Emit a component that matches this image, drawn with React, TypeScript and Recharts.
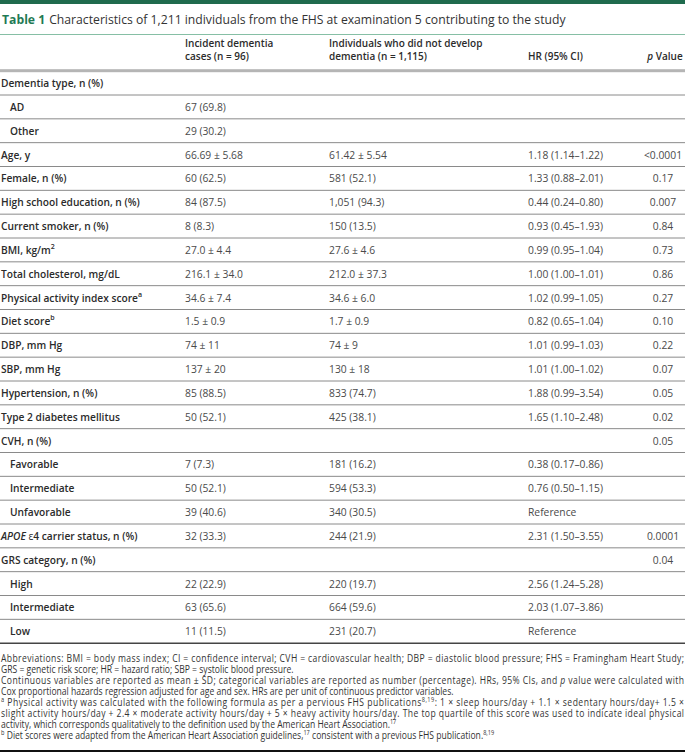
import React from "react";
import { ComposedChart, Bar, XAxis, YAxis, Customized } from "recharts";

// table rows, top to bottom
const LABELS = [
  "Dementia type, n (%)",
  "AD",
  "Other",
  "Age, y",
  "Female, n (%)",
  "High school education, n (%)",
  "Current smoker, n (%)",
  "BMI, kg/m2",
  "Total cholesterol, mg/dL",
  "Physical activity index score",
  "Diet score",
  "DBP, mm Hg",
  "SBP, mm Hg",
  "Hypertension, n (%)",
  "Type 2 diabetes mellitus",
  "CVH, n (%)",
  "Favorable",
  "Intermediate",
  "Unfavorable",
  "APOE ε4 carrier status, n (%)",
  "GRS category, n (%)",
  "High",
  "Intermediate ",
  "Low",
];

const SUB_ROWS = ["AD", "Other", "Favorable", "Intermediate", "Unfavorable", "High", "Intermediate ", "Low"];

const INCIDENT = [
  "", "67 (69.8)", "29 (30.2)", "66.69 ± 5.68", "60 (62.5)", "84 (87.5)", "8 (8.3)",
  "27.0 ± 4.4", "216.1 ± 34.0", "34.6 ± 7.4", "1.5 ± 0.9", "74 ± 11", "137 ± 20",
  "85 (88.5)", "50 (52.1)", "", "7 (7.3)", "50 (52.1)", "39 (40.6)", "32 (33.3)",
  "", "22 (22.9)", "63 (65.6)", "11 (11.5)",
];

const NO_DEMENTIA = [
  "", "", "", "61.42 ± 5.54", "581 (52.1)", "1,051 (94.3)", "150 (13.5)",
  "27.6 ± 4.6", "212.0 ± 37.3", "34.6 ± 6.0", "1.7 ± 0.9", "74 ± 9", "130 ± 18",
  "833 (74.7)", "425 (38.1)", "", "181 (16.2)", "594 (53.3)", "340 (30.5)", "244 (21.9)",
  "", "220 (19.7)", "664 (59.6)", "231 (20.7)",
];

const HAZARD = [
  "", "", "", "1.18 (1.14–1.22)", "1.33 (0.88–2.01)", "0.44 (0.24–0.80)", "0.93 (0.45–1.93)",
  "0.99 (0.95–1.04)", "1.00 (1.00–1.01)", "1.02 (0.99–1.05)", "0.82 (0.65–1.04)",
  "1.01 (0.99–1.03)", "1.01 (1.00–1.02)", "1.88 (0.99–3.54)", "1.65 (1.10–2.48)", "",
  "0.38 (0.17–0.86)", "0.76 (0.50–1.15)", "Reference", "2.31 (1.50–3.55)", "",
  "2.56 (1.24–5.28)", "2.03 (1.07–3.86)", "Reference",
];

const P_VALUES = [
  "", "", "", "<0.0001", "0.17", "0.007", "0.84", "0.73", "0.86", "0.27", "0.10",
  "0.22", "0.07", "0.05", "0.02", "0.05", "", "", "", "0.0001", "0.04", "", "", "",
];

const rows = LABELS.map((label, i) => ({
  label,
  band: 1,
  incident: INCIDENT[i],
  noDementia: NO_DEMENTIA[i],
  hazard: HAZARD[i],
  p: P_VALUES[i],
}));

const FONT = "'Open Sans', 'Noto Sans', sans-serif";
const GREEN = "#1f6b4d";
const COL = { label: 1, sub: 10, inc: 185, nod: 329, hr: 528, p: 663 };

const renderLabel = (label: string) => {
  const l = label.trim();
  if (l === "BMI, kg/m2")
    return (
      <>
        BMI, kg/m<tspan dy={-4} fontSize={7}>2</tspan>
      </>
    );
  if (l === "Physical activity index score")
    return (
      <>
        {l}
        <tspan dy={-4} fontSize={7}>a</tspan>
      </>
    );
  if (l === "Diet score")
    return (
      <>
        {l}
        <tspan dy={-4} fontSize={7}>b</tspan>
      </>
    );
  if (l.startsWith("APOE"))
    return (
      <>
        <tspan fontStyle="italic">APOE</tspan>
        <tspan fontWeight={400}> ε</tspan>4 carrier status, n (%)
      </>
    );
  return l;
};

const RowShape = (props: any) => {
  const { y, height, payload, index } = props;
  const cy = y + height / 2;
  const last = index === rows.length - 1;
  const isSub = SUB_ROWS.includes(payload.label);
  const val = { fontFamily: FONT, fontSize: 10.3, fill: "#4a4a4a", dominantBaseline: "central" as const };
  return (
    <g>
      <text
        x={isSub ? COL.sub : COL.label}
        y={cy}
        fontFamily={FONT}
        fontSize={10.2}
        fontWeight={600}
        fill="#2b2b2b"
        dominantBaseline="central"
      >
        {renderLabel(payload.label)}
      </text>
      <text x={COL.inc} y={cy} {...val}>{payload.incident}</text>
      <text x={COL.nod} y={cy} {...val}>{payload.noDementia}</text>
      <text x={COL.hr} y={cy} {...val}>{payload.hazard}</text>
      <text x={COL.p} y={cy} textAnchor="middle" {...val}>{payload.p}</text>
      <line
        x1={0}
        x2={685}
        y1={y + height}
        y2={y + height}
        stroke={last ? "#444" : "#8a8a8a"}
        strokeWidth={last ? 1.5 : 1}
      />
    </g>
  );
};

const Sup = ({ children }: { children: React.ReactNode }) => (
  <tspan dy={-3.5} fontSize={6.5}>{children}</tspan>
);

// footnote lines, squeezed horizontally like the condensed face of the original
const FOOT_SIZE = 10;
const FOOT_SCALE = 0.86;
const FOOT_W = 683 / FOOT_SCALE;

const Frame = () => {
  const head = { fontFamily: FONT, fontSize: 10, fontWeight: 600, fill: "#2b2b2b" };
  const foot = { fontFamily: FONT, fontSize: FOOT_SIZE, fill: "#333" };
  const fy = [662, 673, 684, 695, 706, 717, 728, 739];
  return (
    <g>
      <rect x={0} y={0} width={685} height={4} fill={GREEN} />
      <text x={2} y={24} fontFamily={FONT} fontSize={12.2} fill="#333">
        <tspan fontWeight={700} fill="#1f7a55">Table 1</tspan>
        <tspan dx={4}>Characteristics of 1,211 individuals from the FHS at examination 5 contributing to the study</tspan>
      </text>
      <line x1={0} x2={685} y1={34.5} y2={34.5} stroke="#86bfa5" strokeWidth={1} />
      <text x={COL.inc} y={46.5} {...head}>Incident dementia</text>
      <text x={COL.inc} y={60} {...head}>cases (n = 96)</text>
      <text x={COL.nod} y={46.5} {...head}>Individuals who did not develop</text>
      <text x={COL.nod} y={60} {...head}>dementia (n = 1,115)</text>
      <text x={COL.hr} y={60} {...head}>HR (95% CI)</text>
      <text x={COL.p + 2} y={60} textAnchor="middle" {...head}>
        <tspan fontStyle="italic">p</tspan> Value
      </text>
      <rect x={0} y={69.2} width={685} height={3} fill="#b5b5b5" />

      <g transform={`translate(1,0) scale(${FOOT_SCALE},1)`}>
        <text x={0} y={fy[0]} {...foot} textLength={FOOT_W} lengthAdjust="spacing">
          Abbreviations: BMI = body mass index; CI = confidence interval; CVH = cardiovascular health; DBP = diastolic blood pressure; FHS = Framingham Heart Study;
        </text>
        <text x={0} y={fy[1]} {...foot}>
          GRS = genetic risk score; HR = hazard ratio; SBP = systolic blood pressure.
        </text>
        <text x={0} y={fy[2]} {...foot} textLength={FOOT_W} lengthAdjust="spacing">
          Continuous variables are reported as mean ± SD; categorical variables are reported as number (percentage). HRs, 95% CIs, and <tspan fontStyle="italic">p</tspan> value were calculated with
        </text>
        <text x={0} y={fy[3]} {...foot}>
          Cox proportional hazards regression adjusted for age and sex. HRs are per unit of continuous predictor variables.
        </text>
        <text x={0} y={fy[4]} {...foot} textLength={FOOT_W} lengthAdjust="spacing">
          <tspan dy={-3.5} fontSize={6.5}>a</tspan>
          <tspan dy={3.5}> Physical activity was calculated with the following formula as per a pervious FHS publications</tspan>
          <Sup>8,19</Sup>
          <tspan dy={3.5}>: 1 × sleep hours/day + 1.1 × sedentary hours/day+ 1.5 ×</tspan>
        </text>
        <text x={0} y={fy[5]} {...foot} textLength={FOOT_W} lengthAdjust="spacing">
          slight activity hours/day + 2.4 × moderate activity hours/day + 5 × heavy activity hours/day. The top quartile of this score was used to indicate ideal physical
        </text>
        <text x={0} y={fy[6]} {...foot}>
          activity, which corresponds qualitatively to the definition used by the American Heart Association.<Sup>17</Sup>
        </text>
        <text x={0} y={fy[7]} {...foot}>
          <tspan dy={-3.5} fontSize={6.5}>b</tspan>
          <tspan dy={3.5}> Diet scores were adapted from the American Heart Association guidelines,</tspan>
          <Sup>17</Sup>
          <tspan dy={3.5}> consistent with a previous FHS publication.</tspan>
          <Sup>8,19</Sup>
        </text>
      </g>
      <rect x={0} y={750} width={685} height={2} fill="#111" />
    </g>
  );
};

export default function App() {
  return (
    <div style={{ position: "absolute", left: 0, top: 0, width: 685, height: 752, background: "#fff" }}>
      <ComposedChart
        width={685}
        height={752}
        data={rows}
        layout="vertical"
        margin={{ top: 71, right: 0, bottom: 109, left: 0 }}
        barCategoryGap={0}
      >
        <XAxis type="number" domain={[0, 1]} hide />
        <YAxis type="category" dataKey="label" hide />
        <Bar dataKey="band" isAnimationActive={false} shape={RowShape} />
        <Customized component={Frame} />
      </ComposedChart>
    </div>
  );
}
